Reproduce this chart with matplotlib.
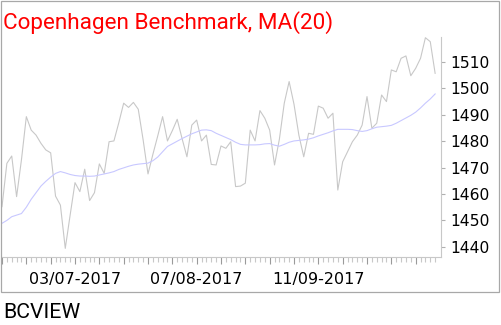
import matplotlib
matplotlib.use("Agg")
import matplotlib.pyplot as plt
from matplotlib.patches import Rectangle
import pandas as pd

W, H = 502, 325

# trading days, Copenhagen, 12/06-2017 .. 13/10-2017
dates = pd.bdate_range("2017-06-12", "2017-10-13")

close = [
    1455.2, 1471.6, 1474.4, 1459.0, 1473.0, 1489.3, 1484.2, 1482.3, 1479.2, 1476.7,
    1475.6, 1459.2, 1455.8, 1439.4, 1452.0, 1464.3, 1460.9, 1469.4, 1457.5, 1460.5,
    1471.4, 1467.8, 1479.8, 1480.1, 1487.0, 1494.4, 1492.8, 1494.7, 1492.1, 1480.5,
    1467.6, 1475.0, 1482.0, 1489.3, 1480.1, 1484.0, 1488.3, 1481.0, 1474.1, 1486.1,
    1488.0, 1480.1, 1482.3, 1471.2, 1471.0, 1478.2, 1477.3, 1479.8, 1462.8, 1463.0,
    1464.1, 1484.2, 1480.1, 1491.6, 1488.7, 1484.2, 1471.0, 1480.8, 1494.4, 1502.6,
    1494.0, 1482.3, 1474.1, 1483.0, 1482.6, 1493.3, 1492.5, 1488.7, 1490.6, 1461.5,
    1472.2, 1476.0, 1479.8, 1482.3, 1486.1, 1496.9, 1484.9, 1486.8, 1497.5, 1495.0,
    1507.0, 1506.3, 1511.4, 1512.3, 1504.8, 1507.6, 1511.4, 1519.2, 1517.7, 1505.7,
]

ma20 = [
    1448.9, 1450.0, 1451.4, 1452.0, 1452.6, 1455.0, 1458.0, 1460.5, 1463.0, 1464.8,
    1466.4, 1467.8, 1468.5, 1468.0, 1467.4, 1467.0, 1466.8, 1466.8, 1466.7, 1466.8,
    1467.2, 1467.6, 1468.0, 1468.5, 1469.3, 1469.9, 1470.5, 1471.0, 1471.3, 1471.5,
    1471.7, 1472.6, 1474.0, 1476.0, 1478.0, 1479.0, 1480.0, 1481.0, 1481.9, 1482.8,
    1483.5, 1484.2, 1484.3, 1484.0, 1483.0, 1482.2, 1481.4, 1480.6, 1479.6, 1478.8,
    1478.6, 1478.6, 1478.6, 1478.7, 1479.0, 1479.1, 1478.5, 1478.1, 1478.8, 1479.6,
    1480.1, 1480.3, 1480.5, 1480.8, 1481.3, 1482.0, 1482.6, 1483.2, 1483.9, 1484.5,
    1484.5, 1484.5, 1484.4, 1484.0, 1483.7, 1484.0, 1484.7, 1485.3, 1485.5, 1485.7,
    1486.0, 1486.8, 1487.8, 1488.8, 1489.8, 1491.0, 1492.6, 1494.4, 1496.0, 1497.9,
]

y_ticks = [1440, 1450, 1460, 1470, 1480, 1490, 1500, 1510]
date_labels = ["03/07-2017", "07/08-2017", "11/09-2017"]

title = "Copenhagen Benchmark, MA(20)"
footer = "BCVIEW"

NARROW = ["Roboto", "DejaVu Sans"]


def px_box(left, top, right, bottom):
    # pixel box (top-left origin) -> figure fraction [l, b, w, h]
    return [left / W, 1 - bottom / H, (right - left) / W, (bottom - top) / H]


fig = plt.figure(figsize=(W / 100, H / 100), dpi=100)
fig.patch.set_facecolor("white")

# outer frame
fig.patches.append(Rectangle((1 / W, 1 - 292 / H), 498 / W, 291 / H,
                             transform=fig.transFigure, fill=False,
                             edgecolor="#a8a8a8", linewidth=0.9))

ax = fig.add_axes(px_box(2, 37, 441, 257))
x = list(range(len(dates)))
ax.plot(x, close, color="#c8c8c8", linewidth=0.8)
ax.plot(x, ma20, color="#c8c8ff", linewidth=0.8)

# 1.7px + 4.87px per trading day
ax.set_xlim((2 - 1.7) / 4.87, (441 - 1.7) / 4.87)
ax.set_ylim(1510 - (257 - 62) / 2.64, 1510 + (62 - 37) / 2.64)

for side in ["left", "top"]:
    ax.spines[side].set_visible(False)
ax.spines["bottom"].set_color("#c8c8c8")
ax.spines["right"].set_color("#c8c8c8")
ax.spines["bottom"].set_linewidth(0.8)
ax.spines["right"].set_linewidth(0.8)

ax.yaxis.tick_right()
ax.set_yticks(y_ticks)
ax.set_yticklabels([str(v) for v in y_ticks])
ax.tick_params(axis="y", length=3, width=0.8, color="#b0b0b0", pad=3.5,
               labelsize=11.2, labelcolor="black")

mondays = [i for i, d in enumerate(dates) if d.weekday() == 0]
labels = []
for i in mondays:
    s = dates[i].strftime("%d/%m-%Y")
    labels.append(s if s in date_labels else "")
ax.set_xticks(mondays)
ax.set_xticklabels(labels)
ax.set_xticks(x, minor=True)
ax.tick_params(axis="x", which="major", length=5, width=0.8, color="#9a9a9a",
               pad=6, labelsize=11.5, labelcolor="black")
ax.tick_params(axis="x", which="minor", length=3.5, width=0.8, color="#c8c8c8")

fig.text(3 / W, 1 - 28.5 / H, title, color="red", fontsize=16.2,
         family=NARROW, va="baseline", ha="left")
fig.text(3 / W, 1 - 318 / H, footer, color="black", fontsize=15.3,
         family=NARROW, va="baseline", ha="left")

fig.savefig("out.png", dpi=100)
